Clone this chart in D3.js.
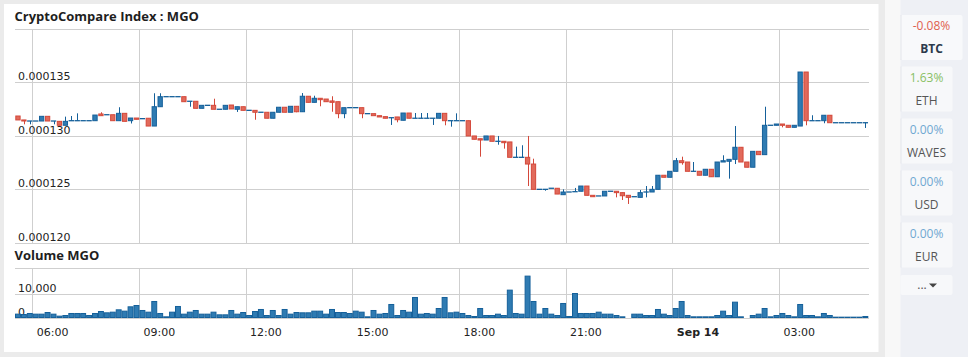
<!DOCTYPE html>
<html><head><meta charset="utf-8">
<script src="https://cdn.jsdelivr.net/npm/d3@7"></script>
<style>body{margin:0;background:#ebebeb;overflow:hidden}svg{display:block}</style>
</head><body><svg id="c" width="968" height="357"></svg>
<script>
const chartTitle = "CryptoCompare Index : MGO";
const volumeTitle = "Volume MGO";
const startTime = "2017-09-13T05:30:00Z";
const intervalMinutes = 10;
const priceTicks = [0.000120, 0.000125, 0.000130, 0.000135];
const volumeTicks = [0, 10000];

const open = [0.00013185,0.00013148,0.00013138,0.00013138,0.00013138,0.00013182,0.00013138,0.00013135,0.00013098,0.00013141,
0.00013141,0.00013141,0.00013141,0.00013141,0.00013204,0.00013197,0.00013197,0.00013141,0.00013210,0.00013141,
0.00013166,0.00013160,0.00013164,0.00013091,0.00013272,0.00013366,0.00013366,0.00013366,0.00013366,0.00013323,
0.00013323,0.00013257,0.00013285,0.00013285,0.00013248,0.00013248,0.00013288,0.00013248,0.00013272,0.00013238,
0.00013238,0.00013220,0.00013220,0.00013164,0.00013220,0.00013267,0.00013220,0.00013276,0.00013225,0.00013370,
0.00013313,0.00013351,0.00013344,0.00013326,0.00013319,0.00013207,0.00013263,0.00013263,0.00013263,0.00013207,
0.00013207,0.00013188,0.00013179,0.00013169,0.00013176,0.00013145,0.00013213,0.00013164,0.00013164,0.00013164,
0.00013164,0.00013164,0.00013210,0.00013141,0.00013141,0.00013141,0.00013141,0.00012998,0.00012972,0.00012960,
0.00012998,0.00012948,0.00012948,0.00012942,0.00012798,0.00012798,0.00012798,0.00012735,0.00012498,0.00012498,
0.00012508,0.00012508,0.00012448,0.00012473,0.00012476,0.00012480,0.00012529,0.00012442,0.00012436,0.00012436,
0.00012480,0.00012480,0.00012467,0.00012442,0.00012429,0.00012423,0.00012473,0.00012473,0.00012498,0.00012630,
0.00012611,0.00012667,0.00012766,0.00012754,0.00012667,0.00012667,0.00012630,0.00012686,0.00012616,0.00012754,
0.00012761,0.00012779,0.00012892,0.00012754,0.00012705,0.00012854,0.00012823,0.00013098,0.00013098,0.00013110,
0.00013098,0.00013079,0.00013091,0.00013597,0.00013141,0.00013141,0.00013141,0.00013192,0.00013122,0.00013122,
0.00013122,0.00013122,0.00013122,0.00013122];

const high = [0.00013185,0.00013148,0.00013138,0.00013138,0.00013182,0.00013182,0.00013138,0.00013135,0.00013179,0.00013185,
0.00013210,0.00013141,0.00013141,0.00013194,0.00013220,0.00013197,0.00013197,0.00013267,0.00013210,0.00013166,
0.00013166,0.00013160,0.00013164,0.00013398,0.00013398,0.00013366,0.00013366,0.00013366,0.00013366,0.00013323,
0.00013323,0.00013285,0.00013285,0.00013347,0.00013248,0.00013285,0.00013288,0.00013272,0.00013272,0.00013238,
0.00013238,0.00013220,0.00013220,0.00013220,0.00013267,0.00013267,0.00013276,0.00013276,0.00013400,0.00013370,
0.00013375,0.00013351,0.00013344,0.00013370,0.00013319,0.00013263,0.00013263,0.00013263,0.00013263,0.00013207,
0.00013207,0.00013188,0.00013179,0.00013169,0.00013176,0.00013213,0.00013213,0.00013213,0.00013213,0.00013213,
0.00013164,0.00013210,0.00013210,0.00013141,0.00013210,0.00013141,0.00013141,0.00012998,0.00012972,0.00012998,
0.00012998,0.00012998,0.00012948,0.00012942,0.00012898,0.00012911,0.00012998,0.00012785,0.00012498,0.00012498,
0.00012508,0.00012508,0.00012498,0.00012473,0.00012511,0.00012529,0.00012529,0.00012442,0.00012436,0.00012480,
0.00012480,0.00012480,0.00012467,0.00012442,0.00012429,0.00012492,0.00012529,0.00012529,0.00012632,0.00012630,
0.00012667,0.00012792,0.00012804,0.00012754,0.00012754,0.00012667,0.00012686,0.00012686,0.00012754,0.00012817,
0.00012779,0.00013091,0.00012892,0.00012754,0.00012854,0.00012854,0.00013272,0.00013098,0.00013110,0.00013110,
0.00013098,0.00013098,0.00013597,0.00013597,0.00013192,0.00013141,0.00013192,0.00013192,0.00013122,0.00013122,
0.00013122,0.00013122,0.00013122,0.00013122];

const low = [0.00013148,0.00013107,0.00013107,0.00013138,0.00013138,0.00013138,0.00013107,0.00013098,0.00013098,0.00013141,
0.00013141,0.00013141,0.00013141,0.00013141,0.00013188,0.00013197,0.00013141,0.00013141,0.00013135,0.00013115,
0.00013154,0.00013160,0.00013091,0.00013091,0.00013272,0.00013366,0.00013366,0.00013366,0.00013319,0.00013272,
0.00013257,0.00013257,0.00013285,0.00013248,0.00013248,0.00013248,0.00013251,0.00013223,0.00013238,0.00013238,
0.00013150,0.00013220,0.00013164,0.00013164,0.00013220,0.00013220,0.00013220,0.00013220,0.00013225,0.00013313,
0.00013313,0.00013276,0.00013319,0.00013225,0.00013164,0.00013164,0.00013263,0.00013263,0.00013164,0.00013207,
0.00013188,0.00013176,0.00013164,0.00013101,0.00013126,0.00013145,0.00013164,0.00013164,0.00013164,0.00013164,
0.00013101,0.00013164,0.00013098,0.00013085,0.00013141,0.00013141,0.00012998,0.00012967,0.00012804,0.00012960,
0.00012948,0.00012916,0.00012879,0.00012798,0.00012798,0.00012798,0.00012529,0.00012498,0.00012498,0.00012485,
0.00012508,0.00012454,0.00012448,0.00012473,0.00012476,0.00012480,0.00012442,0.00012429,0.00012436,0.00012436,
0.00012480,0.00012423,0.00012398,0.00012361,0.00012429,0.00012423,0.00012423,0.00012473,0.00012498,0.00012611,
0.00012611,0.00012667,0.00012729,0.00012667,0.00012667,0.00012630,0.00012630,0.00012616,0.00012616,0.00012754,
0.00012598,0.00012735,0.00012754,0.00012705,0.00012705,0.00012823,0.00012823,0.00013098,0.00013098,0.00013079,
0.00013079,0.00013079,0.00013091,0.00013098,0.00013141,0.00013141,0.00013117,0.00013122,0.00013122,0.00013122,
0.00013122,0.00013122,0.00013122,0.00013073];

const close = [0.00013148,0.00013138,0.00013138,0.00013138,0.00013182,0.00013138,0.00013138,0.00013098,0.00013135,0.00013141,
0.00013141,0.00013141,0.00013141,0.00013194,0.00013188,0.00013197,0.00013141,0.00013210,0.00013135,0.00013166,
0.00013154,0.00013160,0.00013091,0.00013272,0.00013366,0.00013366,0.00013366,0.00013366,0.00013319,0.00013323,
0.00013257,0.00013285,0.00013285,0.00013248,0.00013248,0.00013285,0.00013251,0.00013272,0.00013238,0.00013238,
0.00013220,0.00013220,0.00013164,0.00013220,0.00013267,0.00013220,0.00013276,0.00013225,0.00013370,0.00013313,
0.00013351,0.00013338,0.00013319,0.00013313,0.00013207,0.00013263,0.00013263,0.00013263,0.00013207,0.00013207,
0.00013188,0.00013176,0.00013164,0.00013169,0.00013150,0.00013213,0.00013164,0.00013164,0.00013164,0.00013164,
0.00013164,0.00013210,0.00013141,0.00013141,0.00013141,0.00013141,0.00012998,0.00012967,0.00012960,0.00012998,
0.00012948,0.00012948,0.00012935,0.00012798,0.00012798,0.00012798,0.00012735,0.00012498,0.00012498,0.00012498,
0.00012508,0.00012454,0.00012473,0.00012473,0.00012476,0.00012529,0.00012442,0.00012429,0.00012436,0.00012480,
0.00012480,0.00012467,0.00012438,0.00012423,0.00012429,0.00012467,0.00012473,0.00012498,0.00012630,0.00012611,
0.00012667,0.00012766,0.00012748,0.00012667,0.00012667,0.00012630,0.00012686,0.00012616,0.00012754,0.00012766,
0.00012779,0.00012892,0.00012754,0.00012705,0.00012854,0.00012823,0.00013098,0.00013098,0.00013110,0.00013098,
0.00013079,0.00013098,0.00013597,0.00013141,0.00013141,0.00013141,0.00013192,0.00013122,0.00013122,0.00013122,
0.00013122,0.00013122,0.00013122,0.00013122];

const volume = [1400,1250,1670,1390,1390,2080,1390,560,830,1670,
1670,1670,830,1670,2500,1950,2220,3200,2640,4450,
5000,2920,2220,6670,1670,280,2220,4590,1390,2220,
2920,1390,1390,2220,1110,1110,2920,1390,2080,830,
2500,3340,830,2920,830,3340,1390,2080,1950,1950,
2640,2640,1390,3340,2080,2080,1670,2640,2220,280,
2920,1390,1670,5420,830,2920,2220,8340,1390,1670,
1390,3750,8340,1950,2220,1670,830,420,3750,830,
830,1390,830,11400,1670,1390,17240,6670,1390,3750,
1390,830,5840,420,10000,1670,1670,1670,2220,1390,
1390,830,280,0,1390,1390,830,830,3340,1390,
830,3750,6670,830,280,280,280,280,830,2640,
830,6390,280,0,830,1390,3750,280,830,1670,
830,280,5420,830,830,280,1670,830,140,140,
140,140,140,420];

const pairs = ["BTC", "ETH", "WAVES", "USD", "EUR"];
const pairChanges = ["-0.08%", "1.63%", "0.00%", "0.00%", "0.00%"];

const svg = d3.select("#c");
const W = 968, H = 357;
const FONT_T = "'Open Sans', 'DejaVu Sans', sans-serif";
const FONT_A = "'DejaVu Sans', Verdana, sans-serif";
const UP_FILL = "#2f7bb2", UP_STROKE = "#15609a";
const DN_FILL = "#e16a5b", DN_STROKE = "#d4483a";

// backgrounds
svg.append("rect").attr("width", W).attr("height", H).attr("fill", "#ebebeb");
svg.append("rect").attr("x", 4).attr("y", 4).attr("width", 874.5).attr("height", 348).attr("fill", "#ffffff");
svg.append("rect").attr("x", 885).attr("y", 0).attr("width", 16).attr("height", H).attr("fill", "#f8f8f8");
svg.append("rect").attr("x", 900.5).attr("y", 0).attr("width", W - 900.5).attr("height", H).attr("fill", "#eef0f5");

// scales
const t0 = new Date(startTime);
const n = open.length;
const stepMs = intervalMinutes * 60000;
const times = d3.range(n).map(i => new Date(t0.getTime() + i * stepMs));
const t1 = new Date(t0.getTime() + n * stepMs);
const x = d3.scaleUtc().domain([t0, t1]).range([15, 868.3]);
const y = d3.scaleLinear().domain([0.000120, 0.000140]).range([242.5, 29]);
const yv = d3.scaleLinear().domain([0, 20500]).range([317.5, 268.3]);
const gx0 = 14.5, gx1 = 868.5;
const GRID = "#cfcfcf";

// vertical grid
const hourTicks = x.ticks(d3.utcHour.every(3));
const vg = svg.append("g").attr("stroke", GRID).attr("stroke-width", 1).attr("shape-rendering", "crispEdges");
hourTicks.forEach(t => {
  const xx = Math.floor(x(t)) + 0.5;
  vg.append("line").attr("x1", xx).attr("x2", xx).attr("y1", y.range()[1]).attr("y2", y.range()[0]);
  vg.append("line").attr("x1", xx).attr("x2", xx).attr("y1", yv.range()[1]).attr("y2", yv.range()[0]);
});
// plot top borders
[Math.floor(y.range()[1]) + 0.5, Math.floor(yv.range()[1]) + 0.5].forEach(yy => {
  vg.append("line").attr("x1", gx0).attr("x2", gx1).attr("y1", yy).attr("y2", yy);
});

// y axis (price) with gridlines
const gy = svg.append("g").attr("transform", `translate(${gx0},0)`)
  .call(d3.axisRight(y).tickValues(priceTicks).tickSize(gx1 - gx0).tickFormat(d3.format(".6f")));
gy.select(".domain").remove();
gy.selectAll(".tick line").attr("stroke", GRID).attr("shape-rendering", "crispEdges");
gy.selectAll(".tick text").attr("x", 3.5).attr("dy", -2.5).attr("text-anchor", "start")
  .attr("font-family", FONT_A).attr("font-size", 11).attr("fill", "#222");

// volume axis
const gv = svg.append("g").attr("transform", `translate(${gx0},0)`)
  .call(d3.axisRight(yv).tickValues(volumeTicks).tickSize(gx1 - gx0).tickFormat(d3.format(",")));
gv.select(".domain").remove();
gv.selectAll(".tick line").attr("stroke", GRID).attr("shape-rendering", "crispEdges");
gv.selectAll(".tick text").attr("x", 3.5).attr("dy", -2).attr("text-anchor", "start")
  .attr("font-family", FONT_A).attr("font-size", 11).attr("fill", "#222");

// x axis labels
const isMidnight = t => t.getUTCHours() === 0 && t.getUTCMinutes() === 0;
const gxA = svg.append("g").attr("transform", "translate(0,324)")
  .call(d3.axisBottom(x).tickValues(hourTicks).tickSize(0)
    .tickFormat(t => isMidnight(t) ? d3.utcFormat("%b %d")(t) : d3.utcFormat("%H:%M")(t)));
gxA.select(".domain").remove();
gxA.selectAll(".tick text").attr("x", 3.5).attr("y", 11.5).attr("dy", 0).attr("text-anchor", "start")
  .attr("font-family", FONT_A).attr("font-size", 11).attr("fill", "#222")
  .attr("font-weight", d => isMidnight(d) ? "bold" : "normal");

// titles
svg.append("text").attr("x", 14.5).attr("y", 21).text(chartTitle)
  .attr("font-family", FONT_T).attr("font-weight", "bold").attr("font-size", 13).attr("fill", "#1e1e1e");
svg.append("text").attr("x", 14.5).attr("y", 260).text(volumeTitle)
  .attr("font-family", FONT_T).attr("font-weight", "bold").attr("font-size", 13).attr("fill", "#1e1e1e");

// data
const data = times.map((t, i) => ({t, o: open[i], h: high[i], l: low[i], c: close[i], v: volume[i]}));
const cx = d => x(new Date(d.t.getTime() + stepMs / 2));
const bw = 4.3;

// volume bars
svg.append("g").selectAll("rect").data(data).join("rect")
  .attr("x", d => x(d.t) + 0.5)
  .attr("width", d => x(new Date(d.t.getTime() + stepMs)) - x(d.t) - 1)
  .attr("y", d => yv(d.v))
  .attr("height", d => yv(0) - yv(d.v))
  .attr("fill", UP_FILL).attr("stroke", UP_STROKE).attr("stroke-width", 1);

// candles
const cg = svg.append("g");
const candle = cg.selectAll("g").data(data).join("g");
const colS = d => d.c < d.o ? DN_STROKE : UP_STROKE;
candle.append("line")
  .attr("x1", d => Math.round(cx(d)) + 0.5).attr("x2", d => Math.round(cx(d)) + 0.5)
  .attr("y1", d => y(d.h)).attr("y2", d => y(d.l))
  .attr("stroke", colS).attr("stroke-width", 1)
  .attr("display", d => (y(d.l) - y(d.h)) < 0.5 ? "none" : null);
candle.filter(d => d.c !== d.o).append("rect")
  .attr("x", d => cx(d) - bw / 2).attr("width", bw)
  .attr("y", d => y(Math.max(d.o, d.c)))
  .attr("height", d => Math.max(0.5, Math.abs(y(d.o) - y(d.c))))
  .attr("fill", d => d.c < d.o ? DN_FILL : UP_FILL)
  .attr("stroke", colS).attr("stroke-width", 1);
candle.filter(d => d.c === d.o).append("line")
  .attr("x1", d => cx(d) - 2.7).attr("x2", d => cx(d) + 2.7)
  .attr("y1", d => y(d.o)).attr("y2", d => y(d.o))
  .attr("stroke", UP_STROKE).attr("stroke-width", 1.3);

// right panel buttons
const btns = [
  {x: 900.5, y: 15, w: 62, h: 45},
  {x: 900.5, y: 66.5, w: 52, h: 45},
  {x: 900.5, y: 118.5, w: 52, h: 45},
  {x: 900.5, y: 170.5, w: 52, h: 45},
  {x: 900.5, y: 222.5, w: 52, h: 45}
];
const changeColor = s => s.startsWith("-") ? "#e0604f" : (parseFloat(s) > 0 ? "#88c064" : "#70a8d2");
pairs.forEach((p, i) => {
  const b = btns[i];
  svg.append("rect").attr("x", b.x).attr("y", b.y).attr("width", b.w).attr("height", b.h)
    .attr("rx", 2).attr("fill", i === 0 ? "#f8f9fb" : "#f7f8fa");
  svg.append("line").attr("x1", b.x + 0.5).attr("x2", b.x + 0.5).attr("y1", b.y).attr("y2", b.y + b.h)
    .attr("stroke", "#e4e6eb");
  const cxb = b.x + b.w / 2;
  svg.append("text").attr("x", cxb).attr("y", b.y + 15).attr("text-anchor", "middle")
    .attr("font-family", FONT_T).attr("font-size", 12).attr("fill", changeColor(pairChanges[i]))
    .text(pairChanges[i]);
  svg.append("text").attr("x", cxb).attr("y", b.y + 38).attr("text-anchor", "middle")
    .attr("font-family", FONT_T).attr("font-size", 12)
    .attr("font-weight", i === 0 ? "bold" : "normal")
    .attr("fill", i === 0 ? "#2c3a4c" : "#555")
    .text(p);
});
svg.append("rect").attr("x", 900.5).attr("y", 275).attr("width", 52).attr("height", 20).attr("rx", 2).attr("fill", "#f7f8fa");
svg.append("text").attr("x", 922).attr("y", 289).attr("text-anchor", "middle")
  .attr("font-family", FONT_T).attr("font-size", 12).attr("fill", "#555").text("...");
svg.append("path").attr("d", "M929,283.5 L937,283.5 L933,287.5 Z").attr("fill", "#444");
</script></body></html>
